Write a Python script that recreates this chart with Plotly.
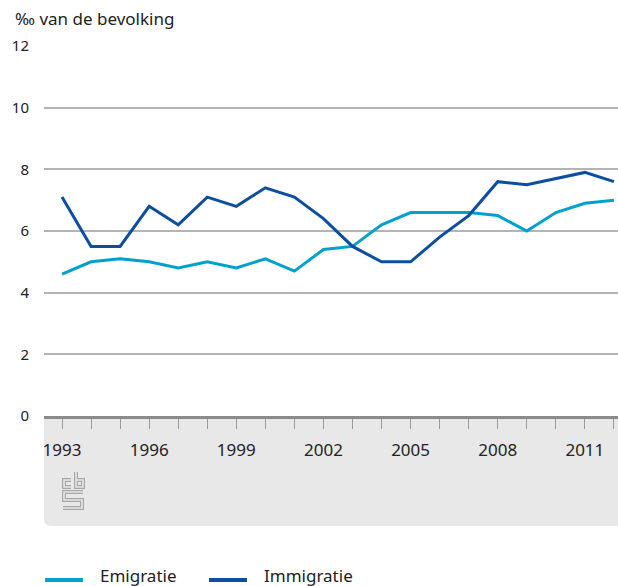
import plotly.graph_objects as go

## Data (per mille of the population)
years = list(range(1993, 2013))
emigratie = [4.6, 5.0, 5.1, 5.0, 4.8, 5.0, 4.8, 5.1, 4.7, 5.4,
             5.5, 6.2, 6.6, 6.6, 6.6, 6.5, 6.0, 6.6, 6.9, 7.0]
immigratie = [7.1, 5.5, 5.5, 6.8, 6.2, 7.1, 6.8, 7.4, 7.1, 6.4,
              5.5, 5.0, 5.0, 5.8, 6.5, 7.6, 7.5, 7.7, 7.9, 7.6]
series_names = ["Emigratie", "Immigratie"]
series_colors = ["#00a1cd", "#0c4fa0"]
y_ticks = [0, 2, 4, 6, 8, 10, 12]
x_labels = [str(y) if (y - 1993) % 3 == 0 else "" for y in years]

W, H = 618, 586
L, T, B = 44, 46, 170
PW, PH = W - L, H - T - B
FONT = "Noto Sans"


def px_x(x):
    # page pixel -> paper x
    return (x - L) / PW


def px_y(y):
    # page pixel -> paper y
    return (H - B - y) / PH


fig = go.Figure()
for vals, name, col in zip([emigratie, immigratie], series_names, series_colors):
    fig.add_trace(go.Scatter(x=years, y=vals, name=name, mode="lines",
                             line=dict(color=col, width=3)))

## grey band behind the x axis, rounded bottom-left corner (pixels from plot origin)
band = "M0,0 L580,0 L580,-110 L7,-110 Q0,-110 0,-103 Z"
shapes = [dict(type="path", path=band, xref="paper", yref="paper",
               xsizemode="pixel", ysizemode="pixel", xanchor=0, yanchor=0,
               fillcolor="#e8e8e8", line=dict(width=0), layer="below")]

## small cbs logo in the band, drawn as outlined strokes
logo = ["M27,-64 L20,-64 L20,-71 L27,-71",
        "M32,-56 L32,-71 L39,-71 L39,-64 L32,-64",
        "M39,-76 L20,-76 L20,-84 L38,-84 L38,-92 L19,-92"]
for p in logo:
    for w, c in [(4, "#a6a6a6"), (1.6, "#e8e8e8")]:
        shapes.append(dict(type="path", path=p, xref="paper", yref="paper",
                           xsizemode="pixel", ysizemode="pixel", xanchor=0, yanchor=0,
                           line=dict(color=c, width=w)))

## legend below the chart: coloured line + name
annotations = [dict(text="‰ van de bevolking", xref="paper", yref="paper",
                    x=px_x(13), y=px_y(18), xanchor="left", yanchor="middle",
                    showarrow=False, font=dict(size=17, family=FONT, color="#222222"))]
leg_x = [45, 209]
for lx, name, col in zip(leg_x, series_names, series_colors):
    shapes.append(dict(type="line", xref="paper", yref="paper",
                       x0=px_x(lx), x1=px_x(lx + 38), y0=px_y(580), y1=px_y(580),
                       line=dict(color=col, width=4)))
    annotations.append(dict(text=name, xref="paper", yref="paper",
                            x=px_x(lx + 53), y=px_y(575), xanchor="left", yanchor="middle",
                            showarrow=False,
                            font=dict(size=17, family=FONT, color="#222222")))

fig.update_layout(
    width=W, height=H,
    margin=dict(l=L, r=0, t=T, b=B, autoexpand=False),
    plot_bgcolor="white", paper_bgcolor="white",
    font=dict(family=FONT, size=15, color="#222222"),
    shapes=shapes,
    annotations=annotations,
    showlegend=False,
)

fig.update_xaxes(range=[1992.38, 2012.14], tickvals=years, ticktext=x_labels,
                 ticks="outside", ticklen=10, tickcolor="#9a9a9a", tickwidth=1,
                 ticklabelstandoff=7, automargin=False,
                 showline=True, linecolor="#8a8a8a", linewidth=3,
                 showgrid=False, zeroline=False,
                 tickfont=dict(size=17, family=FONT, color="#222222"))
fig.update_yaxes(range=[0, 12], tickvals=y_ticks, showgrid=True,
                 gridcolor="#b4b4b4", gridwidth=1.5, zeroline=False,
                 showline=False, ticks="", ticklabelstandoff=14, automargin=False,
                 tickfont=dict(size=15, family=FONT, color="#222222"))

# drop the default 8px page margin so the figure fills the window
fig.write_html("out.html", config={"displayModeBar": False},
               post_script="document.body.style.margin='0';"
                           "document.body.style.overflow='hidden';")
